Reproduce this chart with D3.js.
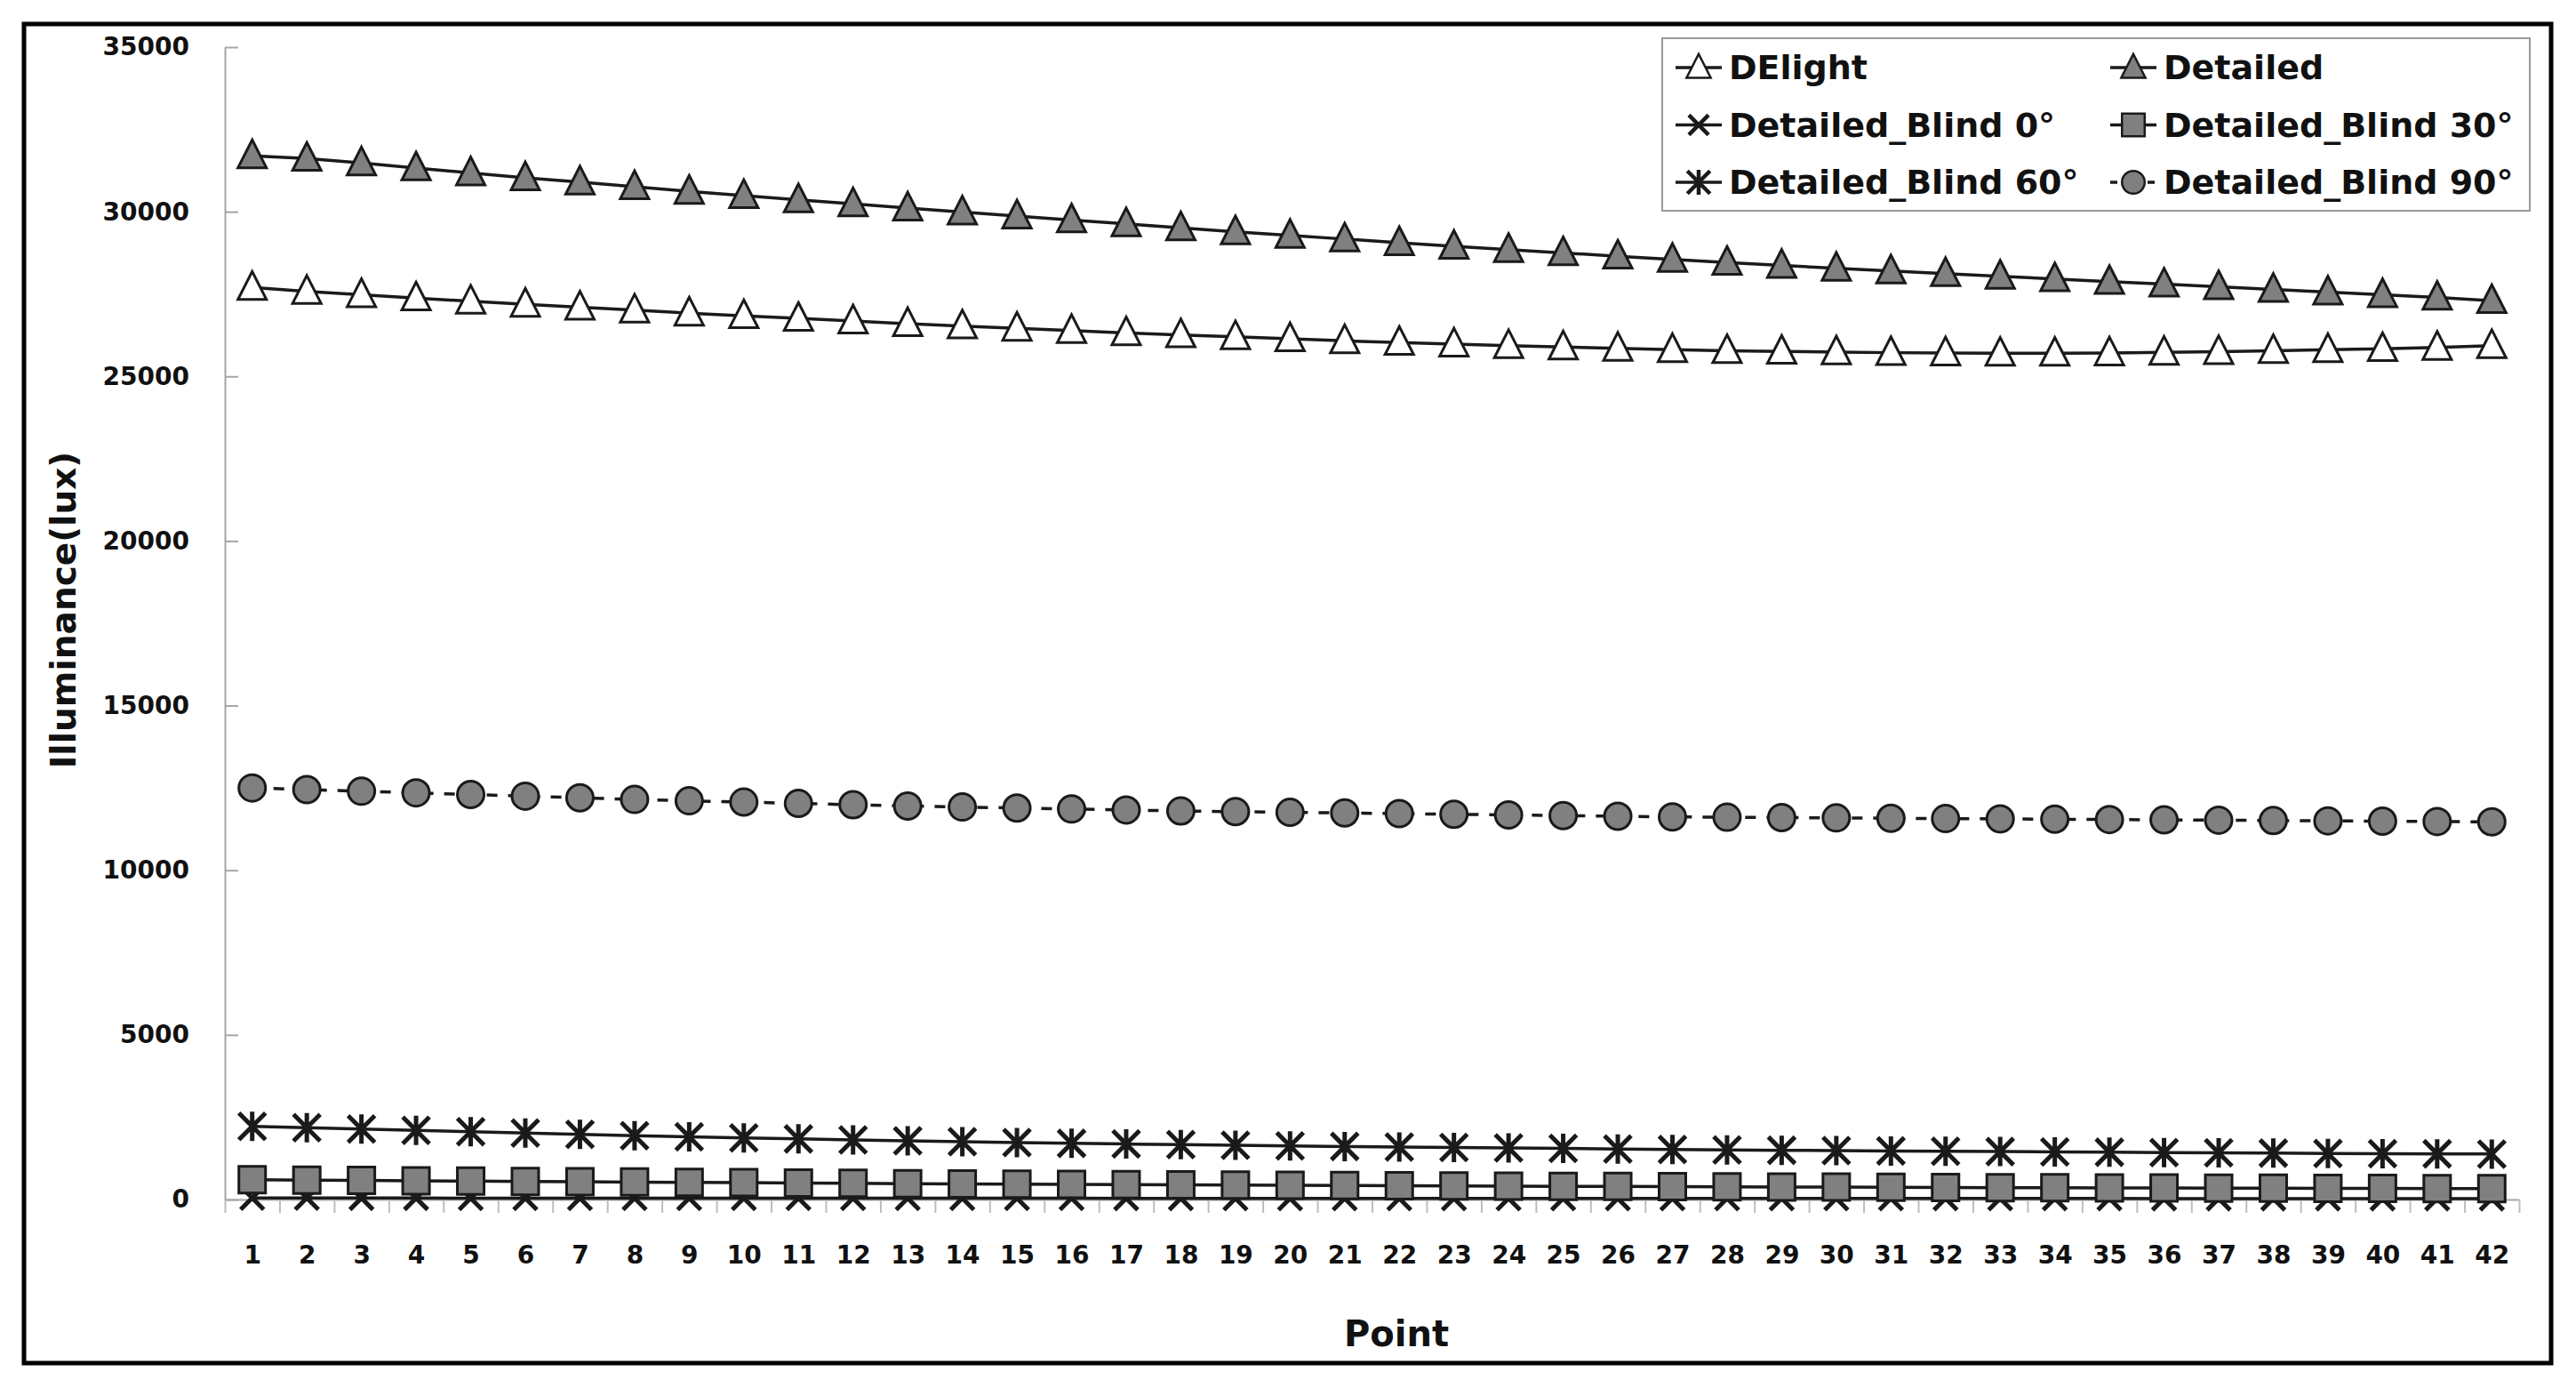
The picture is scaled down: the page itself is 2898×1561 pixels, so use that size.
<!DOCTYPE html>
<html>
<head>
<meta charset="utf-8">
<script src="https://cdn.jsdelivr.net/npm/d3@7"></script>
<style>
  body { margin: 0; background: #fff; }
  svg { display: block; }
  text { font-family: "DejaVu Sans", sans-serif; font-weight: bold; fill: #111; }
</style>
</head>
<body>
<svg id="chart" width="2898" height="1561"></svg>
<script>
// category labels (measurement points)
const points = [1, 2, 3, 4, 5, 6, 7, 8, 9, 10, 11, 12, 13, 14, 15, 16, 17, 18, 19, 20, 21,
  22, 23, 24, 25, 26, 27, 28, 29, 30, 31, 32, 33, 34, 35, 36, 37, 38, 39, 40, 41, 42];
const yTicks = [0, 5000, 10000, 15000, 20000, 25000, 30000, 35000];

// illuminance values (lux)
const delight = [27700, 27580, 27480, 27380, 27280, 27190, 27100, 27010, 26920, 26840, 26760,
  26680, 26600, 26530, 26460, 26390, 26320, 26260, 26200, 26140, 26080, 26030, 25980, 25930,
  25890, 25850, 25810, 25780, 25760, 25740, 25720, 25710, 25700, 25700, 25710, 25730, 25750,
  25780, 25810, 25840, 25880, 25930];
const detailed = [31700, 31620, 31480, 31330, 31180, 31030, 30900, 30760, 30620, 30490, 30360,
  30240, 30110, 29990, 29870, 29750, 29630, 29510, 29390, 29280, 29170, 29060, 28950, 28850,
  28750, 28650, 28550, 28460, 28370, 28280, 28200, 28120, 28040, 27960, 27880, 27800, 27720,
  27640, 27560, 27480, 27400, 27300];
const blind0 = [45, 45, 44, 44, 43, 43, 42, 42, 41, 41, 40, 40, 39, 39, 38, 38, 37, 37, 36, 36,
  35, 35, 35, 34, 34, 34, 33, 33, 33, 32, 32, 32, 31, 31, 31, 30, 30, 30, 30, 30, 30, 30];
const blind30 = [600, 590, 580, 570, 560, 550, 540, 530, 520, 510, 500, 490, 480, 470, 465, 460,
  450, 445, 440, 430, 425, 420, 410, 405, 400, 395, 390, 385, 380, 375, 370, 365, 360, 355, 352,
  348, 345, 342, 339, 336, 333, 330];
const blind60 = [2220, 2180, 2140, 2100, 2060, 2020, 1980, 1940, 1905, 1870, 1840, 1810, 1780,
  1755, 1730, 1705, 1685, 1665, 1645, 1625, 1610, 1595, 1580, 1565, 1550, 1535, 1520, 1505, 1495,
  1485, 1475, 1465, 1455, 1445, 1435, 1425, 1415, 1408, 1400, 1393, 1387, 1380];
const blind90 = [12500, 12450, 12400, 12350, 12300, 12250, 12200, 12150, 12110, 12070, 12030,
  11990, 11950, 11920, 11890, 11860, 11830, 11800, 11780, 11760, 11740, 11720, 11700, 11680,
  11660, 11640, 11620, 11610, 11600, 11590, 11580, 11570, 11560, 11550, 11540, 11530, 11520,
  11510, 11500, 11490, 11480, 11470];

const seriesNames = ["DElight", "Detailed", "Detailed_Blind 0°", "Detailed_Blind 30°",
  "Detailed_Blind 60°", "Detailed_Blind 90°"];

const ink = "#1a1a1a";
const grey = "#808080";

// marker shapes, drawn with d3.path
const markers = {
  triOpen: s => tri(s), triFill: s => tri(s),
  x: s => { const p = d3.path(), r = s / 2;
    p.moveTo(-r, -r); p.lineTo(r, r); p.moveTo(-r, r); p.lineTo(r, -r); return p.toString(); },
  square: s => { const p = d3.path(); p.rect(-s / 2, -s / 2, s, s); return p.toString(); },
  star: s => { const p = d3.path(), r = s / 2;
    p.moveTo(-r, -r); p.lineTo(r, r); p.moveTo(-r, r); p.lineTo(r, -r);
    p.moveTo(0, -r * 1.1); p.lineTo(0, r * 1.1); return p.toString(); },
  circle: s => { const p = d3.path(); p.arc(0, 0, s / 2, 0, 2 * Math.PI); return p.toString(); }
};
function tri(s) {
  const p = d3.path();
  p.moveTo(0, -s * 0.56); p.lineTo(s / 2, s * 0.42); p.lineTo(-s / 2, s * 0.42); p.closePath();
  return p.toString();
}

const series = [
  { name: seriesNames[0], values: delight, marker: "triOpen", fill: "#fff", size: 32, dash: null },
  { name: seriesNames[1], values: detailed, marker: "triFill", fill: grey, size: 32, dash: null },
  { name: seriesNames[2], values: blind0, marker: "x", fill: "none", size: 26, dash: null },
  { name: seriesNames[3], values: blind30, marker: "square", fill: grey, size: 30, dash: null },
  { name: seriesNames[4], values: blind60, marker: "star", fill: "none", size: 30, dash: null },
  { name: seriesNames[5], values: blind90, marker: "circle", fill: grey, size: 30, dash: "12,12" }
];

const plot = { left: 253, right: 2834, top: 53, bottom: 1349 };
const svg = d3.select("#chart");

svg.append("rect").attr("width", 2898).attr("height", 1561).attr("fill", "#fff");
svg.append("rect")
  .attr("x", 27).attr("y", 27).attr("width", 2843).attr("height", 1506)
  .attr("fill", "none").attr("stroke", "#000").attr("stroke-width", 5);

const xScale = d3.scalePoint().domain(points).range([plot.left, plot.right]).padding(0.5);
const xEdge = d3.scaleLinear().domain([0.5, points.length + 0.5]).range([plot.left, plot.right]);
const yScale = d3.scaleLinear().domain([0, 35000]).range([plot.bottom, plot.top]);

// y axis
const yAxis = svg.append("g")
  .attr("transform", `translate(${plot.left},0)`)
  .call(d3.axisLeft(yScale).tickValues(yTicks).tickFormat(d3.format("d"))
    .tickSize(-15).tickSizeOuter(0).tickPadding(40));
yAxis.select(".domain").attr("stroke", "#a6a6a6").attr("stroke-width", 2);
yAxis.selectAll(".tick line").attr("stroke", "#a6a6a6").attr("stroke-width", 2);
yAxis.selectAll("text").style("font-size", "28px").attr("fill", "#111");

// x axis: tick marks between categories, labels under the points
const xTickAxis = svg.append("g")
  .attr("transform", `translate(0,${plot.bottom})`)
  .call(d3.axisBottom(xEdge).tickValues(d3.range(0.5, points.length + 1, 1))
    .tickFormat("").tickSize(15).tickSizeOuter(0));
xTickAxis.select(".domain").attr("stroke", "#a6a6a6").attr("stroke-width", 2);
xTickAxis.selectAll(".tick line").attr("stroke", "#bdbdbd").attr("stroke-width", 2);

const xLabels = svg.append("g")
  .attr("transform", `translate(0,${plot.bottom})`)
  .call(d3.axisBottom(xScale).tickSize(0).tickPadding(52));
xLabels.select(".domain").remove();
xLabels.selectAll("text").style("font-size", "28px").attr("fill", "#111");

// axis titles
svg.append("text")
  .attr("transform", "translate(71,686) rotate(-90)")
  .attr("text-anchor", "middle").attr("dominant-baseline", "central")
  .style("font-size", "39px").text("Illuminance(lux)");
svg.append("text")
  .attr("x", 1571).attr("y", 1500)
  .attr("text-anchor", "middle").attr("dominant-baseline", "central")
  .style("font-size", "40px").text("Point");

// series
const line = d3.line().x((d, i) => xScale(points[i])).y(d => yScale(d));
series.forEach(s => {
  const g = svg.append("g");
  g.append("path")
    .attr("d", line(s.values))
    .attr("fill", "none").attr("stroke", ink).attr("stroke-width", 3.5)
    .attr("stroke-dasharray", s.dash);
  const open = s.marker === "x" || s.marker === "star";
  g.selectAll("path.m").data(s.values).join("path")
    .attr("class", "m")
    .attr("transform", (d, i) => `translate(${xScale(points[i])},${yScale(d)})`)
    .attr("d", markers[s.marker](s.size))
    .attr("fill", s.fill)
    .attr("stroke", ink)
    .attr("stroke-width", open ? 5 : 3)
    .attr("stroke-linejoin", "miter");
});

// legend
const legend = svg.append("g");
legend.append("rect")
  .attr("x", 1870).attr("y", 43).attr("width", 976).attr("height", 194)
  .attr("fill", "#fff").attr("stroke", "#9a9a9a").attr("stroke-width", 2);
const colX = [1911, 2400];
const rowY = [76, 140.5, 205];
series.forEach((s, i) => {
  const cx = colX[i % 2], cy = rowY[Math.floor(i / 2)];
  const g = legend.append("g").attr("transform", `translate(${cx},${cy})`);
  g.append("line").attr("x1", -26).attr("x2", 26)
    .attr("stroke", ink).attr("stroke-width", 3.5).attr("stroke-dasharray", s.dash ? "8,6" : null);
  const open = s.marker === "x" || s.marker === "star";
  g.append("path").attr("d", markers[s.marker](s.size * 0.85))
    .attr("fill", s.fill).attr("stroke", ink).attr("stroke-width", open ? 4.5 : 2.5);
  g.append("text").attr("x", 34).attr("dominant-baseline", "central")
    .style("font-size", "38px").text(s.name);
});
</script>
</body>
</html>
